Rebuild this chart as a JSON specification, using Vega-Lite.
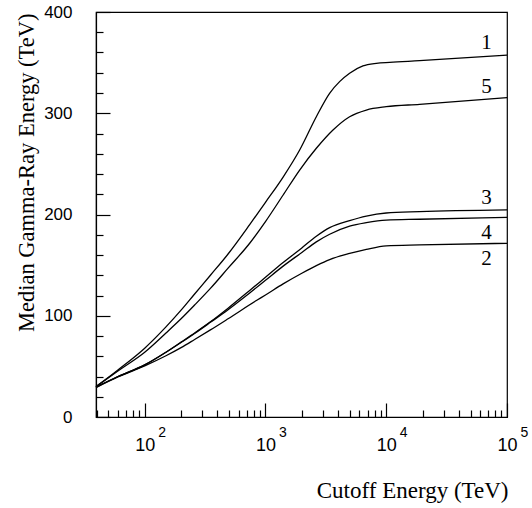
{
  "$schema": "https://vega.github.io/schema/vega-lite/v6.json",
  "width": 411,
  "height": 405,
  "autosize": "none",
  "padding": {"left": 96, "top": 12, "right": 25, "bottom": 91},
  "background": "white",
  "config": {"view": {"stroke": "black", "strokeWidth": 1.2}},
  "datasets": {
    "curves": [
      {"curve": "1", "cutoff": 39.5, "median": 30},
      {"curve": "1", "cutoff": 60, "median": 46.5},
      {"curve": "1", "cutoff": 100, "median": 68},
      {"curve": "1", "cutoff": 150, "median": 89},
      {"curve": "1", "cutoff": 200, "median": 105.5},
      {"curve": "1", "cutoff": 259, "median": 121.5},
      {"curve": "1", "cutoff": 350, "median": 140},
      {"curve": "1", "cutoff": 490, "median": 161},
      {"curve": "1", "cutoff": 740, "median": 190},
      {"curve": "1", "cutoff": 1000, "median": 212},
      {"curve": "1", "cutoff": 1400, "median": 237},
      {"curve": "1", "cutoff": 1919, "median": 263.7},
      {"curve": "1", "cutoff": 2637, "median": 296.6},
      {"curve": "1", "cutoff": 3396, "median": 319.7},
      {"curve": "1", "cutoff": 4110, "median": 331.2},
      {"curve": "1", "cutoff": 4975, "median": 339.5},
      {"curve": "1", "cutoff": 6412, "median": 346.7},
      {"curve": "1", "cutoff": 8276, "median": 349.3},
      {"curve": "1", "cutoff": 10670, "median": 350.3},
      {"curve": "1", "cutoff": 18880, "median": 351.9},
      {"curve": "1", "cutoff": 100000, "median": 357.5},
      {"curve": "5", "cutoff": 39.5, "median": 30},
      {"curve": "5", "cutoff": 60, "median": 45.5},
      {"curve": "5", "cutoff": 100, "median": 64},
      {"curve": "5", "cutoff": 150, "median": 83},
      {"curve": "5", "cutoff": 200, "median": 97},
      {"curve": "5", "cutoff": 259, "median": 110.6},
      {"curve": "5", "cutoff": 350, "median": 127},
      {"curve": "5", "cutoff": 490, "median": 147},
      {"curve": "5", "cutoff": 740, "median": 171.6},
      {"curve": "5", "cutoff": 1000, "median": 193},
      {"curve": "5", "cutoff": 1396, "median": 219},
      {"curve": "5", "cutoff": 1919, "median": 243.9},
      {"curve": "5", "cutoff": 2637, "median": 265.4},
      {"curve": "5", "cutoff": 3623, "median": 283.5},
      {"curve": "5", "cutoff": 4975, "median": 296.6},
      {"curve": "5", "cutoff": 6843, "median": 303.2},
      {"curve": "5", "cutoff": 10000, "median": 306.5},
      {"curve": "5", "cutoff": 18880, "median": 308.8},
      {"curve": "5", "cutoff": 100000, "median": 315.4},
      {"curve": "3", "cutoff": 39.5, "median": 29.5},
      {"curve": "3", "cutoff": 60, "median": 40},
      {"curve": "3", "cutoff": 100, "median": 51.5},
      {"curve": "3", "cutoff": 150, "median": 64},
      {"curve": "3", "cutoff": 200, "median": 74},
      {"curve": "3", "cutoff": 259, "median": 83},
      {"curve": "3", "cutoff": 350, "median": 94},
      {"curve": "3", "cutoff": 490, "median": 107.5},
      {"curve": "3", "cutoff": 740, "median": 125},
      {"curve": "3", "cutoff": 1000, "median": 138},
      {"curve": "3", "cutoff": 1400, "median": 152.5},
      {"curve": "3", "cutoff": 2000, "median": 167},
      {"curve": "3", "cutoff": 2637, "median": 178.5},
      {"curve": "3", "cutoff": 3400, "median": 187},
      {"curve": "3", "cutoff": 4975, "median": 194},
      {"curve": "3", "cutoff": 6843, "median": 198.5},
      {"curve": "3", "cutoff": 10000, "median": 201.5},
      {"curve": "3", "cutoff": 18880, "median": 202.8},
      {"curve": "3", "cutoff": 100000, "median": 204.5},
      {"curve": "4", "cutoff": 39.5, "median": 29.5},
      {"curve": "4", "cutoff": 60, "median": 40},
      {"curve": "4", "cutoff": 100, "median": 51.5},
      {"curve": "4", "cutoff": 150, "median": 64},
      {"curve": "4", "cutoff": 200, "median": 73.5},
      {"curve": "4", "cutoff": 259, "median": 82.5},
      {"curve": "4", "cutoff": 350, "median": 93.5},
      {"curve": "4", "cutoff": 490, "median": 106},
      {"curve": "4", "cutoff": 740, "median": 122.5},
      {"curve": "4", "cutoff": 1000, "median": 135},
      {"curve": "4", "cutoff": 1400, "median": 149},
      {"curve": "4", "cutoff": 2000, "median": 162.5},
      {"curve": "4", "cutoff": 2637, "median": 173},
      {"curve": "4", "cutoff": 3400, "median": 180.5},
      {"curve": "4", "cutoff": 4975, "median": 188.5},
      {"curve": "4", "cutoff": 6843, "median": 192},
      {"curve": "4", "cutoff": 10000, "median": 194.5},
      {"curve": "4", "cutoff": 18880, "median": 195.3},
      {"curve": "4", "cutoff": 100000, "median": 197.2},
      {"curve": "2", "cutoff": 39.5, "median": 29},
      {"curve": "2", "cutoff": 60, "median": 39.5},
      {"curve": "2", "cutoff": 100, "median": 50.5},
      {"curve": "2", "cutoff": 150, "median": 60.5},
      {"curve": "2", "cutoff": 200, "median": 68.5},
      {"curve": "2", "cutoff": 259, "median": 76.5},
      {"curve": "2", "cutoff": 350, "median": 86},
      {"curve": "2", "cutoff": 490, "median": 97},
      {"curve": "2", "cutoff": 841, "median": 115},
      {"curve": "2", "cutoff": 1000, "median": 120.5},
      {"curve": "2", "cutoff": 1400, "median": 131.5},
      {"curve": "2", "cutoff": 2000, "median": 142},
      {"curve": "2", "cutoff": 2637, "median": 149.5},
      {"curve": "2", "cutoff": 3400, "median": 155.5},
      {"curve": "2", "cutoff": 4975, "median": 161.5},
      {"curve": "2", "cutoff": 6843, "median": 165.5},
      {"curve": "2", "cutoff": 10000, "median": 169},
      {"curve": "2", "cutoff": 18880, "median": 170},
      {"curve": "2", "cutoff": 100000, "median": 171.5}
    ],
    "labels": [
      {"label": "1", "cutoff": 67500, "median": 369},
      {"label": "5", "cutoff": 67500, "median": 326},
      {"label": "3", "cutoff": 67500, "median": 216},
      {"label": "4", "cutoff": 67500, "median": 182},
      {"label": "2", "cutoff": 67500, "median": 156.5}
    ]
  },
  "layer": [
    {
      "data": {"name": "curves"},
      "mark": {"type": "line", "color": "black", "strokeWidth": 1.3, "interpolate": "monotone"},
      "encoding": {
        "x": {
          "field": "cutoff", "type": "quantitative",
          "scale": {"type": "log", "domain": [39.5, 100000], "nice": false},
          "axis": {
            "orient": "bottom",
            "values": [40, 50, 60, 70, 80, 90, 100, 200, 300, 400, 500, 600, 700, 800, 900, 1000, 2000, 3000, 4000, 5000, 6000, 7000, 8000, 9000, 10000, 20000, 30000, 40000, 50000, 60000, 70000, 80000, 90000, 100000],
            "labelExpr": "indexof([100, 1000, 10000, 100000], datum.value) >= 0 ? '10' : ''",
            "tickSize": {"condition": {"test": "indexof([100, 1000, 10000, 100000], datum.value) >= 0", "value": -14}, "value": -7},
            "labelPadding": 42,
            "labelBaseline": "middle",
            "labelFont": "Liberation Sans", "labelFontSize": 18, "labelColor": "black",
            "labelFlush": false, "labelOverlap": false, "labelBound": false,
            "grid": false,
            "domainColor": "black", "domainWidth": 1.2,
            "tickColor": "black", "tickWidth": 1.2,
            "title": "Cutoff Energy (TeV)",
            "titleFont": "Liberation Serif", "titleFontSize": 23, "titleFontWeight": "normal", "titleColor": "black",
            "titleX": 412, "titleY": 80, "titleAlign": "right", "titleBaseline": "alphabetic", "titleAnchor": "end"
          }
        },
        "y": {
          "field": "median", "type": "quantitative",
          "scale": {"domain": [0, 400], "nice": false},
          "axis": {
            "orient": "left",
            "values": [0, 20, 40, 60, 80, 100, 120, 140, 160, 180, 200, 220, 240, 260, 280, 300, 320, 340, 360, 380, 400],
            "labelExpr": "datum.value % 100 == 0 ? datum.label : ''",
            "tickSize": {"condition": {"test": "datum.value % 100 == 0", "value": -14}, "value": -7},
            "labelPadding": 38,
            "labelFont": "Liberation Sans", "labelFontSize": 17, "labelColor": "black",
            "labelFlush": false, "labelOverlap": false, "labelBound": false,
            "grid": false,
            "domainColor": "black", "domainWidth": 1.2,
            "tickColor": "black", "tickWidth": 1.2,
            "title": "Median Gamma-Ray Energy (TeV)",
            "titleFont": "Liberation Serif", "titleFontSize": 22.5, "titleFontWeight": "normal", "titleColor": "black",
            "titleX": -63, "titleY": 1, "titleAngle": -90, "titleAlign": "right", "titleBaseline": "alphabetic", "titleAnchor": "end"
          }
        },
        "detail": {"field": "curve"}
      }
    },
    {
      "data": {"name": "labels"},
      "mark": {"type": "text", "font": "Liberation Serif", "fontSize": 21, "color": "black", "align": "center", "baseline": "middle"},
      "encoding": {
        "x": {
          "field": "cutoff", "type": "quantitative",
          "axis": {
            "orient": "bottom",
            "values": [100, 1000, 10000, 100000],
            "labelExpr": "datum.value == 100 ? '2' : datum.value == 1000 ? '3' : datum.value == 10000 ? '4' : '5'",
            "ticks": false, "tickSize": 0, "domain": false, "grid": false,
            "labelPadding": 15, "labelOffset": 17, "labelBaseline": "middle",
            "labelFont": "Liberation Sans", "labelFontSize": 14, "labelColor": "black",
            "labelFlush": false, "labelOverlap": false, "labelBound": false,
            "title": null
          }
        },
        "y": {"field": "median", "type": "quantitative", "axis": null},
        "text": {"field": "label"}
      }
    }
  ],
  "resolve": {"axis": {"x": "independent", "y": "independent"}}
}
